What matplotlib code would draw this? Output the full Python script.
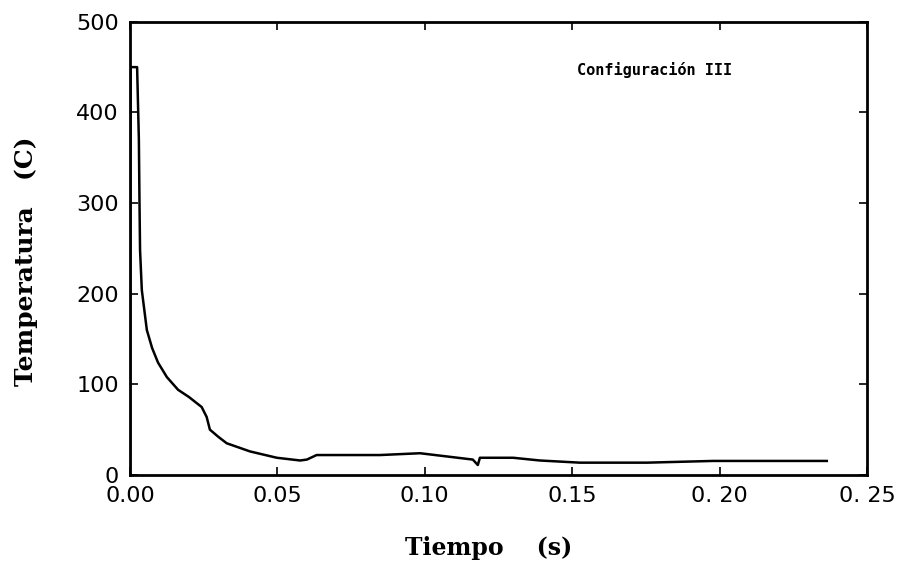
import matplotlib.pyplot as plt

# curva de enfriamiento, configuración III
tiempo = [0.0, 0.0002, 0.0024, 0.0030, 0.0032, 0.0034, 0.0040, 0.0057, 0.0075,
          0.0095, 0.0125, 0.0163, 0.0200, 0.0243, 0.0260, 0.0271, 0.0300,
          0.0328, 0.0407, 0.0498, 0.0577, 0.0600, 0.0633, 0.0848, 0.0916,
          0.0984, 0.1163, 0.1180, 0.1187, 0.1300, 0.1390, 0.1526, 0.1754,
          0.1978, 0.2364]
temperatura = [0, 450, 450, 370, 303, 248, 204, 160, 140,
               124, 108, 94, 86, 75, 64, 50, 42,
               35, 26, 19, 16, 17, 22, 22, 23,
               24, 17, 11, 19, 19, 16, 13.6, 13.6,
               15.5, 15.5]

xticks = [0.0, 0.05, 0.10, 0.15, 0.20, 0.25]
xlabels = ['0.00', '0.05', '0.10', '0.15', '0. 20', '0. 25']
yticks = [0, 100, 200, 300, 400, 500]

fig = plt.figure(figsize=(9.03, 5.74), dpi=100)
ax = fig.add_axes([0.144, 0.1725, 0.816, 0.7895])

ax.plot(tiempo, temperatura, color='black', lw=1.8)

ax.set_xlim(0, 0.25)
ax.set_ylim(0, 500)
ax.set_xticks(xticks)
ax.set_xticklabels(xlabels)
ax.set_yticks(yticks)
ax.tick_params(direction='in', length=6, width=1.2, top=True, right=True,
               labelsize=16, pad=8)
for s in ax.spines.values():
    s.set_linewidth(2)

ax.set_xlabel('Tiempo    (s)', fontfamily='DejaVu Serif', fontweight='bold',
              fontsize=17)
ax.xaxis.set_label_coords(0.486, -0.135)
ax.set_ylabel('Temperatura   (C)', fontfamily='DejaVu Serif', fontweight='bold',
              fontsize=18)
ax.yaxis.set_label_coords(-0.125, 0.472)

ax.text(0.712, 0.894, 'Configuración III', transform=ax.transAxes,
        family='DejaVu Sans Mono', fontweight='bold', fontsize=11,
        ha='center', va='center')

fig.savefig('out.png', dpi=100)
